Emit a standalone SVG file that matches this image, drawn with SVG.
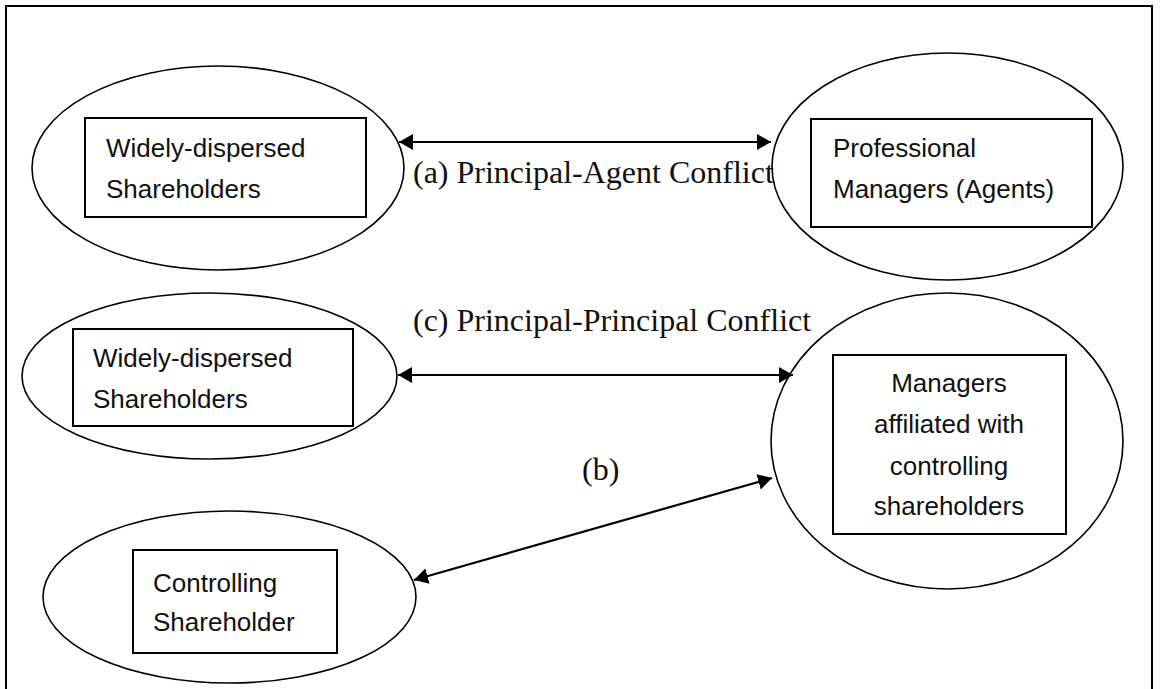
<svg xmlns="http://www.w3.org/2000/svg" width="1160" height="689" viewBox="0 0 1160 689">
  <style>
    .oval { fill: none; stroke: #000; stroke-width: 1.6; }
    .box { fill: #fff; stroke: #000; stroke-width: 2; }
    .lbl { font-family: "Liberation Sans", Arial, sans-serif; font-size: 26px; fill: #111; }
    .rel { font-family: "Liberation Serif", "Times New Roman", serif; font-size: 32px; fill: #111; }
    .link { stroke: #000; stroke-width: 2.2; fill: none; marker-start: url(#head); marker-end: url(#head); }
  </style>
  <defs>
    <marker id="head" viewBox="0 0 14 16" refX="14" refY="8" markerWidth="14" markerHeight="16" markerUnits="userSpaceOnUse" orient="auto-start-reverse">
      <path d="M0,0 L14,8 L0,16 Z" fill="#000"/>
    </marker>
  </defs>
  <rect width="1160" height="689" fill="#fff"/>
  <!-- page frame, open at the bottom -->
  <path d="M6,689 V6 H1152 V689" fill="none" stroke="#000" stroke-width="2"/>

  <g id="dispersed-top">
    <ellipse class="oval" cx="218" cy="168" rx="186" ry="102"/>
    <rect class="box" x="85" y="118" width="281" height="99"/>
    <text class="lbl" x="106" y="157">Widely-dispersed</text>
    <text class="lbl" x="106" y="198">Shareholders</text>
  </g>

  <g id="professional-managers">
    <ellipse class="oval" cx="947.5" cy="166.5" rx="175.5" ry="113.5"/>
    <rect class="box" x="811" y="119" width="281" height="108"/>
    <text class="lbl" x="833" y="157">Professional</text>
    <text class="lbl" x="833" y="198">Managers (Agents)</text>
  </g>

  <g id="dispersed-bottom">
    <ellipse class="oval" cx="209.5" cy="376" rx="187.5" ry="83"/>
    <rect class="box" x="73" y="329" width="280" height="97"/>
    <text class="lbl" x="93" y="367">Widely-dispersed</text>
    <text class="lbl" x="93" y="408">Shareholders</text>
  </g>

  <g id="affiliated-managers">
    <ellipse class="oval" cx="947" cy="441" rx="176" ry="148"/>
    <rect class="box" x="833" y="355" width="233" height="179"/>
    <text class="lbl" x="949" y="392" text-anchor="middle">Managers</text>
    <text class="lbl" x="949" y="433" text-anchor="middle">affiliated with</text>
    <text class="lbl" x="949" y="475" text-anchor="middle">controlling</text>
    <text class="lbl" x="949" y="515" text-anchor="middle">shareholders</text>
  </g>

  <g id="controlling-shareholder">
    <ellipse class="oval" cx="229.5" cy="597" rx="186.5" ry="86"/>
    <rect class="box" x="133" y="550" width="204" height="103"/>
    <text class="lbl" x="153" y="592">Controlling</text>
    <text class="lbl" x="153" y="631">Shareholder</text>
  </g>

  <g id="connectors">
    <line class="link" x1="399" y1="142" x2="771" y2="142"/>
    <line class="link" x1="398" y1="375" x2="793" y2="375"/>
    <line class="link" x1="414" y1="580" x2="772" y2="478"/>
    <text class="rel" x="413" y="183">(a) Principal-Agent Conflict</text>
    <text class="rel" x="413" y="331">(c) Principal-Principal Conflict</text>
    <text class="rel" x="582" y="480">(b)</text>
  </g>
</svg>
